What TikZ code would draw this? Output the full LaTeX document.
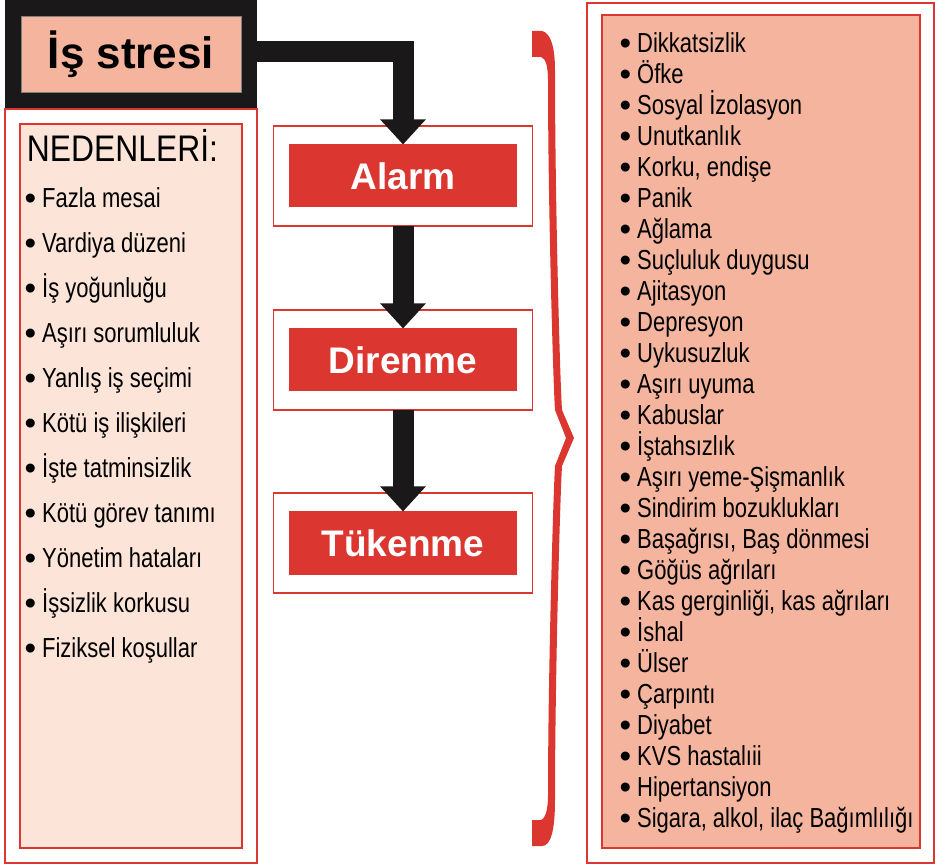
\documentclass[tikz,border=0pt]{standalone}
\usepackage{fontspec}
\setmainfont{Liberation Sans}
\newfontfamily\condfont[FakeStretch=0.8]{Liberation Sans}
\newfontfamily\headfont[FakeStretch=0.86]{Liberation Sans}
\usepackage{tikz}
\usetikzlibrary{arrows.meta}
\definecolor{stagered}{RGB}{219,54,48}
\definecolor{salmon}{RGB}{244,180,157}
\definecolor{blush}{RGB}{252,228,216}
\definecolor{ink}{RGB}{26,24,24}
\newcommand{\itemdot}{\raisebox{-2pt}{\rmfamily\fontsize{33}{31}\selectfont•}}
\tikzstyle{every node}=[inner sep=0pt, outer sep=0pt]
\tikzstyle{stageframe}=[draw=stagered, fill=white, line width=1.5pt, minimum width=259pt, minimum height=100pt]
\tikzstyle{stage}=[fill=stagered, text=white, font=\fontsize{37}{44}\selectfont\bfseries, minimum width=228pt, minimum height=63pt]
\tikzstyle{panel}=[draw=stagered, line width=2pt]
\tikzstyle{listtext}=[anchor=base west, align=left]
\tikzstyle{conn}=[draw=ink, line width=21pt, -{Triangle[width=44pt,length=25pt]}]

\begin{document}
\begin{tikzpicture}[x=1pt,y=-1pt]
        \useasboundingbox (0,0) rectangle (935,866);
        \node[fill=ink, minimum width=252pt, minimum height=108pt] (stressframe) at (131,54) {};
        \node[fill=salmon, draw=gray, line width=0.4pt, minimum width=220pt, minimum height=76pt,
              font=\fontsize{44}{50}\selectfont\bfseries] (stress) at (131,54) {İş stresi};

        \node[panel, minimum width=252pt, minimum height=754pt] (causeframe) at (131,486) {};
        \node[panel, fill=blush, minimum width=222pt, minimum height=724pt] (causes) at (131,486) {};
        \node[anchor=base west, font=\headfont\fontsize{37}{44}\selectfont] (causetitle) at (27,162) {NEDENLERİ:};
        \node[listtext, font=\condfont\fontsize{27.5}{45}\selectfont] (causelist) at (24.5,657) {%
                \itemdot{} Fazla mesai\\ \itemdot{} Vardiya düzeni\\ \itemdot{} İş yoğunluğu\\
                \itemdot{} Aşırı sorumluluk\\ \itemdot{} Yanlış iş seçimi\\ \itemdot{} Kötü iş ilişkileri\\
                \itemdot{} İşte tatminsizlik\\ \itemdot{} Kötü görev tanımı\\ \itemdot{} Yönetim hataları\\
                \itemdot{} İşsizlik korkusu\\ \itemdot{} Fiziksel koşullar};

        \node[stageframe] (alarmframe) at (403,176) {};
        \node[stage] (alarm) at (403,176) {Alarm};
        \node[stageframe] (direnmeframe) at (403,360) {};
        \node[stage] (direnme) at (403,360) {Direnme};
        \node[stageframe] (tukenmeframe) at (403,543) {};
        \node[stage] (tukenme) at (403,543) {Tükenme};

        \draw[conn] ([yshift=2pt]stressframe.east) -| (alarm.north);
        \draw[conn] (alarmframe.south) -- (direnme.north);
        \draw[conn] (direnmeframe.south) -- (tukenme.north);

        \fill[stagered] (532,31) -- (542,31) .. controls (551,33) and (555,48) .. (555,70)
                .. controls (555,200) and (560,380) .. (562,410) -- (574,438) -- (562,466)
                .. controls (560,500) and (555,680) .. (555,800) .. controls (555,830) and (551,846) .. (542,846)
                -- (532,846) -- (532,820) -- (541,820) .. controls (546,818) and (548,808) .. (548,795)
                .. controls (548,680) and (553,500) .. (555,466) -- (566,438) -- (555,410)
                .. controls (553,380) and (548,200) .. (548,80) .. controls (548,68) and (546,58) .. (541,57)
                -- (532,57) -- cycle;

        \node[panel, minimum width=347pt, minimum height=860pt] (symptomframe) at (760.5,433) {};
        \node[panel, fill=salmon, minimum width=318pt, minimum height=833pt] (symptoms) at (761,431.5) {};
        \node[listtext, font=\condfont\fontsize{27.5}{31}\selectfont] (symptomlist) at (619.5,827) {%
                \itemdot{} Dikkatsizlik\\ \itemdot{} Öfke\\ \itemdot{} Sosyal İzolasyon\\ \itemdot{} Unutkanlık\\
                \itemdot{} Korku, endişe\\ \itemdot{} Panik\\ \itemdot{} Ağlama\\ \itemdot{} Suçluluk duygusu\\
                \itemdot{} Ajitasyon\\ \itemdot{} Depresyon\\ \itemdot{} Uykusuzluk\\ \itemdot{} Aşırı uyuma\\
                \itemdot{} Kabuslar\\ \itemdot{} İştahsızlık\\ \itemdot{} Aşırı yeme-Şişmanlık\\
                \itemdot{} Sindirim bozuklukları\\ \itemdot{} Başağrısı, Baş dönmesi\\ \itemdot{} Göğüs ağrıları\\
                \itemdot{} Kas gerginliği, kas ağrıları\\ \itemdot{} İshal\\ \itemdot{} Ülser\\ \itemdot{} Çarpıntı\\
                \itemdot{} Diyabet\\ \itemdot{} KVS hastalıii\\ \itemdot{} Hipertansiyon\\
                \itemdot{} Sigara, alkol, ilaç Bağımlılığı};
\end{tikzpicture}
\end{document}
